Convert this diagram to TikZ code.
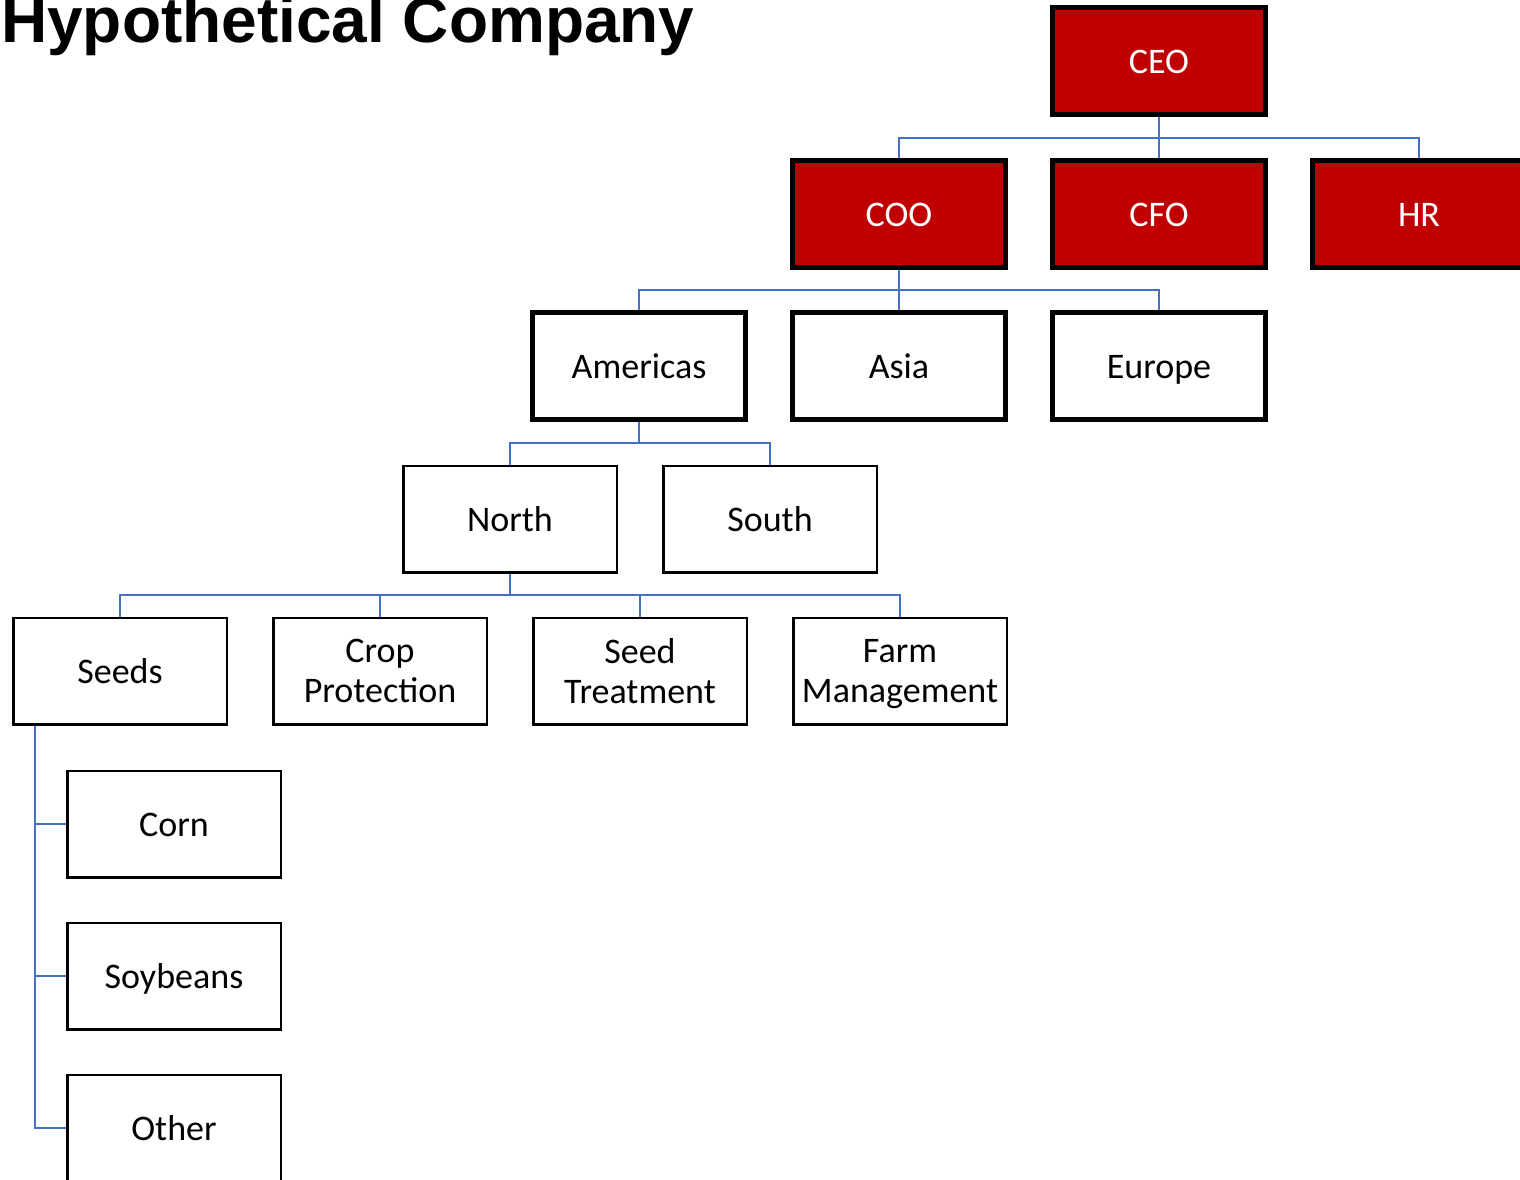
\documentclass[tikz,border=0pt]{standalone}
\usepackage{fontspec}
\setmainfont{Carlito}
\newfontfamily\titlefont{Liberation Sans}
\definecolor{execred}{HTML}{C00000}
\definecolor{linkblue}{HTML}{4472C4}
\begin{document}
\begin{tikzpicture}[x=1pt,y=-1pt,
  box/.style={rectangle, draw=black, minimum width=213.5pt, minimum height=106.5pt,
    inner sep=0pt, align=center, text depth=0pt, font=\fontsize{36}{40}\selectfont},
  oneline/.style={text height=24pt},
  exec/.style={box, oneline, line width=5pt, fill=execred, text=white, minimum width=213pt, minimum height=107pt},
  region/.style={box, oneline, line width=5pt, minimum width=213pt, minimum height=107pt},
  unit/.style={box, line width=2.5pt},
  conn/.style={draw=linkblue, line width=2.8pt}]
\clip (0,0) rectangle (1520,1179);

% title
\node[anchor=base west, inner sep=0pt, font=\titlefont\bfseries\fontsize{64}{70}\selectfont]
  (title) at (1,42) {Hypothetical Company};

% executives
\node[exec] (ceo) at (1159,61) {CEO};
\node[exec] (coo) at (899,214) {COO};
\node[exec] (cfo) at (1159,214) {CFO};
\node[exec] (hr)  at (1419,214) {HR};

% regions
\node[region] (americas) at (639,366) {Americas};
\node[region] (asia)     at (899,366) {Asia};
\node[region] (europe)   at (1159,366) {Europe};

% sub-regions
\node[unit, oneline] (north) at (510,519) {North};
\node[unit, oneline] (south) at (770,519) {South};

% business lines
\node[unit, oneline] (seeds) at (120,671) {Seeds};
\node[unit] (crop)  at (380,671) {Crop\\Protection};
\node[unit] (treat) at (640,671) {Seed\\Treatment};
\node[unit] (farm)  at (900,671) {Farm\\Management};

% seed products
\node[unit, oneline] (corn)  at (174,824) {Corn};
\node[unit, oneline] (soy)   at (174,976) {Soybeans};
\node[unit, oneline] (other) at (174,1128) {Other};

% CEO -> direct reports
\draw[conn] (ceo.south) -- (cfo.north);
\draw[conn] (coo.north) |- (1159,138) -| (hr.north);

% COO -> regions
\draw[conn] (coo.south) -- (asia.north);
\draw[conn] (americas.north) |- (899,290) -| (europe.north);

% Americas -> North / South
\draw[conn] (americas.south) -- (639,443);
\draw[conn] (north.north) |- (639,443) -| (south.north);

% North -> business lines
\draw[conn] (north.south) -- (510,595);
\draw[conn] (seeds.north) |- (510,595) -| (farm.north);
\draw[conn] (crop.north) -- (380,595);
\draw[conn] (treat.north) -- (640,595);

% Seeds -> products
\coordinate (stem) at ([xshift=23pt]seeds.south west);
\draw[conn] (stem) |- (corn.west);
\draw[conn] (stem) |- (soy.west);
\draw[conn] (stem) |- (other.west);
\end{tikzpicture}
\end{document}
